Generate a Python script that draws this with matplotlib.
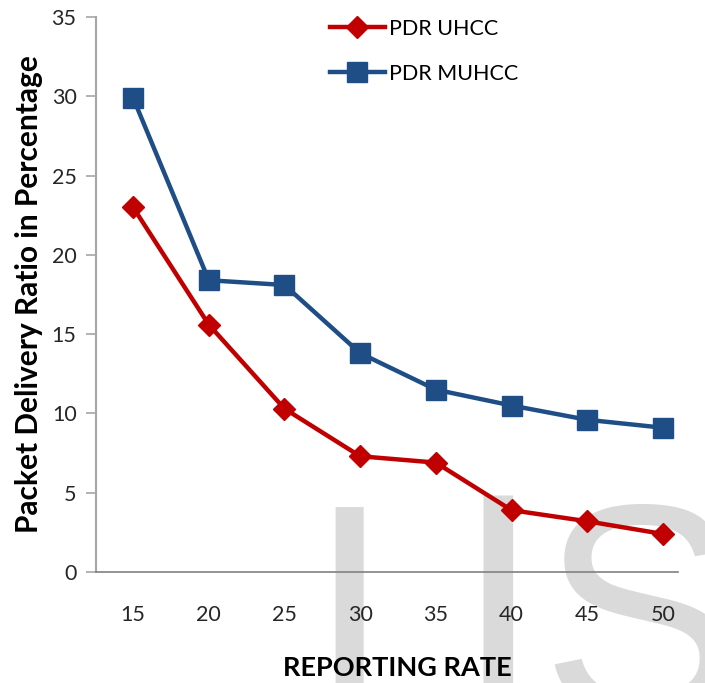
import matplotlib
matplotlib.use('agg')
import matplotlib.pyplot as plt

# data
rates = ['15', '20', '25', '30', '35', '40', '45', '50']
pdr_uhcc = [23.0, 15.6, 10.3, 7.3, 6.9, 3.9, 3.2, 2.4]
pdr_muhcc = [29.9, 18.4, 18.1, 13.8, 11.5, 10.5, 9.6, 9.1]

red = '#C00000'
blue = '#1F4E87'
grey = '#A6A6A6'

plt.rcParams['font.family'] = ['Lato', 'DejaVu Sans']

fig = plt.figure(figsize=(7.05, 6.83), dpi=100)
ax = fig.add_axes([0.1362, 0.1625, 0.8255, 0.8126])
ax.set_facecolor('none')

# watermark behind everything
for ch, xc, fam in [('I', 349, 'Liberation Sans'), ('J', 498, 'DejaVu Sans'),
                    ('S', 640, 'Liberation Sans')]:
    fig.text(xc / 705, -0.045, ch, fontsize=216, color='#DADADA',
             family=fam, ha='center', va='baseline', zorder=-5)

x = range(len(rates))
ax.plot(x, pdr_uhcc, color=red, lw=3.2, marker='D', markersize=11,
        label='PDR UHCC', clip_on=False, zorder=3)
ax.plot(x, pdr_muhcc, color=blue, lw=3.2, marker='s', markersize=14,
        label='PDR MUHCC', clip_on=False, zorder=3)

ax.set_xlim(-0.49, 7.2)
ax.set_ylim(0, 35)
ax.set_yticks(range(0, 36, 5))
ax.set_xticks(list(x))
ax.set_xticklabels(rates)

for side in ['top', 'right']:
    ax.spines[side].set_visible(False)
ax.spines['left'].set_color(grey)
ax.spines['bottom'].set_color('#808080')
ax.spines['left'].set_linewidth(1.5)
ax.spines['bottom'].set_linewidth(1.2)
ax.tick_params(axis='y', colors=grey, length=7, width=1.2, labelcolor='#262626',
               labelsize=15.5, pad=7)
ax.tick_params(axis='x', length=0, labelcolor='#262626', labelsize=15.5, pad=24)

ax.set_ylabel('Packet Delivery Ratio in Percentage', fontsize=21.5, fontweight='bold',
              labelpad=6)
ax.set_xlabel('REPORTING RATE', fontsize=19.5, fontweight='bold')
ax.xaxis.set_label_coords(0.517, -0.152)

ax.legend(loc='upper left', bbox_to_anchor=(330 / 705, 1 - 19 / 683),
          bbox_transform=fig.transFigure, frameon=False, borderpad=0,
          borderaxespad=0, fontsize=15.5, handlelength=2.55,
          handletextpad=0.2, labelspacing=1.15)

plt.savefig('out.png', dpi=100)
